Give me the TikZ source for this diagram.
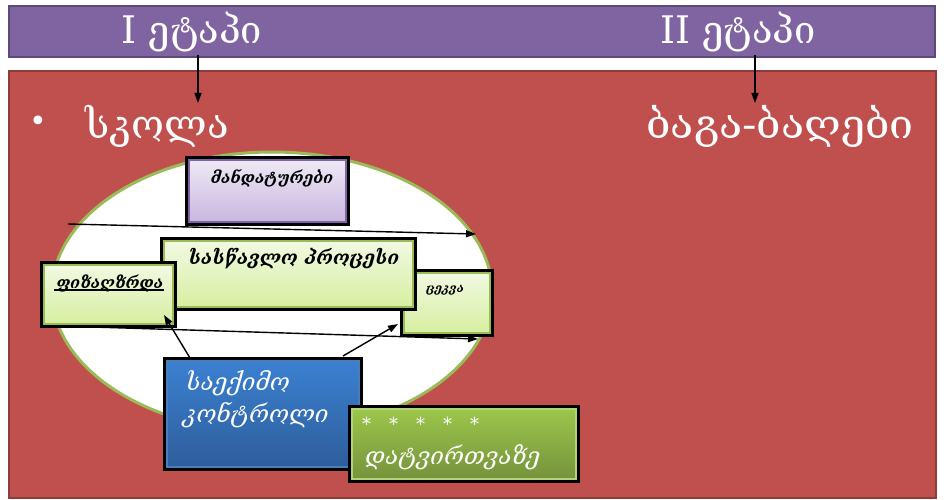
\documentclass[tikz,border=0pt]{standalone}
\usepackage{fontspec}
\setmainfont{DejaVu Serif}
\newfontfamily\geo{DejaVu Serif}
\usetikzlibrary{arrows.meta,calc,shapes.geometric}
\definecolor{barpurple}{HTML}{8064A2}
\definecolor{barborder}{HTML}{5C4B7A}
\definecolor{mainred}{HTML}{C0504D}
\definecolor{redborder}{HTML}{8E3B39}
\definecolor{ellgreen}{HTML}{9BBB59}
\definecolor{lgtop}{HTML}{F1F9E2}
\definecolor{lgbot}{HTML}{D6EFA0}
\definecolor{ptop}{HTML}{EEE9F5}
\definecolor{pbot}{HTML}{C8B6E0}
\definecolor{btop}{HTML}{3B80D0}
\definecolor{bbot}{HTML}{2E5E9C}
\definecolor{bborder}{HTML}{4A7EBB}
\definecolor{gtop}{HTML}{9CC64B}
\definecolor{gbot}{HTML}{76933C}
\definecolor{gborder}{HTML}{B3D27A}
\tikzset{
  plate/.style={inner sep=0pt, outer sep=0pt, anchor=north west},
  framed/.style={preaction={draw=black, line width=8pt}},
  lightbox/.style={plate, framed, draw=ellgreen, line width=2.5pt, top color=lgtop, bottom color=lgbot},
  purplebox/.style={plate, framed, draw=barpurple, line width=2.5pt, top color=ptop, bottom color=pbot},
  bluebox/.style={plate, framed, draw=bborder, line width=1.5pt, top color=btop, bottom color=bbot},
  greenbox/.style={plate, framed, draw=gborder, line width=1.5pt, top color=gtop, bottom color=gbot},
  title/.style={text=white, font=\geo\fontsize{38}{42}\selectfont, inner sep=0pt},
  darktext/.style={text=black, font=\geo\bfseries\itshape, inner sep=0pt},
  whitetext/.style={text=white, font=\geo\itshape, inner sep=0pt},
  arr/.style={-{Triangle[length=10pt,width=7pt]}, line width=1.4pt, black},
}
\begin{document}
\begin{tikzpicture}[x=1pt,y=-1pt]
\useasboundingbox (0,0) rectangle (945,500);
\fill[white] (0,0) rectangle (945,500);
% bars
\node[plate, fill=barpurple, draw=barborder, line width=1.5pt, minimum width=926pt, minimum height=51pt] (bar) at (9,6) {};
\node[plate, fill=mainred, draw=redborder, line width=2pt, minimum width=927pt, minimum height=427pt] (area) at (9,71) {};
% titles
\node[title] (st1) at (192,32) {I ეტაპი};
\node[title] (st2) at (738,32) {II ეტაპი};
\node[title, font=\geo\fontsize{30}{30}\selectfont] (bul) at (38,124) {•};
\node[title, font=\geo\fontsize{40}{44}\selectfont] (school) at (157,126) {სკოლა};
\node[title, font=\geo\fontsize{40}{44}\selectfont] (kind) at (780,126) {\scalebox{1.07}[1]{ბაგა-ბაღები}};
\coordinate (top1) at (198,55);
\coordinate (top2) at (755,55);
\coordinate (bot1) at (198,103);
\coordinate (bot2) at (755,103);
\draw[arr] (top1) -- (bot1);
\draw[arr] (top2) -- (bot2);
% ellipse
\node[draw=ellgreen, fill=white, line width=3pt, ellipse, minimum width=440pt, minimum height=280pt, inner sep=0pt] (ell) at (272,292) {};
% long lines
\coordinate (l1a) at (68,224);
\coordinate (l1b) at (476,234);
\coordinate (l2a) at (60,326);
\coordinate (l2b) at (478,339);
\draw[arr] (l1a) -- (l1b);
\draw[arr] (l2a) -- (l2b);
% boxes
\node[purplebox, minimum width=157pt, minimum height=62pt] (mand) at (189,160) {};
\node[darktext, font=\geo\bfseries\itshape\fontsize{16}{18}\selectfont] (mandt) at (272,178) {მანდატურები};
\node[lightbox, minimum width=86pt, minimum height=60pt] (tsek) at (404,273) {};
\node[darktext, font=\geo\bfseries\itshape\fontsize{12}{14}\selectfont] (tsekt) at (445,290) {ცეკვა};
\node[lightbox, minimum width=249pt, minimum height=66pt] (proc) at (164,241) {};
\node[darktext, font=\geo\bfseries\itshape\fontsize{19}{22}\selectfont] (proct) at (294,259) {სასწავლო პროცესი};
\node[lightbox, minimum width=129pt, minimum height=59pt] (phys) at (44,265) {};
\node[darktext, font=\geo\bfseries\itshape\fontsize{16}{18}\selectfont] (physt) at (110,283) {ფიზაღზრდა};
\draw[line width=1.5pt] (54,290) -- (164,290);
% arrows from medical box
\coordinate (m1) at (190,358);
\coordinate (m2) at (343,356);
\draw[arr] (m1) -- ([shift={(-9pt,9pt)}]phys.south east);
\draw[arr] (m2) -- ([shift={(-6pt,9pt)}]tsek.south west);
\node[bluebox, minimum width=192pt, minimum height=106pt] (med) at (167,361) {};
\node[whitetext, font=\geo\itshape\fontsize{24}{26}\selectfont, anchor=west] (medt1) at (186,383) {საექიმო};
\node[whitetext, font=\geo\itshape\fontsize{24}{26}\selectfont, anchor=west] (medt2) at (183,415) {კონტროლი};
\node[greenbox, minimum width=224pt, minimum height=70pt] (load) at (352,409) {};
\node[whitetext, font=\geo\fontsize{18}{20}\selectfont, anchor=west] (stars) at (362,424) {*\quad *\quad *\quad *\quad *};
\node[whitetext, font=\geo\itshape\fontsize{24}{26}\selectfont, anchor=west] (loadt) at (365,457) {დატვირთვაზე};
\end{tikzpicture}
\end{document}
